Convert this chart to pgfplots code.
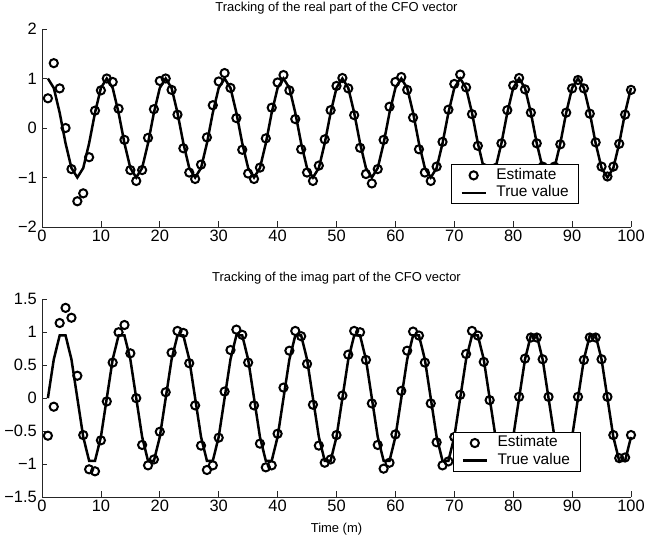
\documentclass[border=0pt]{standalone}
\usepackage{pgfplots}
\pgfplotsset{compat=1.18}
\usepackage{pgfplotstable}
\usepackage{fontspec}
\setmainfont{Liberation Sans}

\pgfplotstableread{
t re reT im imT
1 0.60 1.000 -0.57 0.000
2 1.31 0.809 -0.13 0.588
3 0.80 0.309 1.14 0.951
4 0.00 -0.309 1.37 0.951
5 -0.83 -0.809 1.22 0.588
6 -1.48 -1.000 0.34 0.000
7 -1.32 -0.809 -0.56 -0.588
8 -0.59 -0.309 -1.08 -0.951
9 0.35 0.309 -1.11 -0.951
10 0.76 0.809 -0.64 -0.588
11 1.00 1.000 -0.05 0.000
12 0.93 0.809 0.54 0.588
13 0.39 0.309 1.00 0.951
14 -0.24 -0.309 1.11 0.951
15 -0.85 -0.809 0.68 0.588
16 -1.07 -1.000 0.00 0.000
17 -0.85 -0.809 -0.71 -0.588
18 -0.20 -0.309 -1.02 -0.951
19 0.38 0.309 -0.93 -0.951
20 0.95 0.809 -0.51 -0.588
21 1.00 1.000 0.09 0.000
22 0.77 0.809 0.69 0.588
23 0.27 0.309 1.02 0.951
24 -0.41 -0.309 0.99 0.951
25 -0.90 -0.809 0.53 0.588
26 -1.03 -1.000 -0.11 0.000
27 -0.74 -0.809 -0.72 -0.588
28 -0.19 -0.309 -1.09 -0.951
29 0.46 0.309 -1.02 -0.951
30 0.94 0.809 -0.60 -0.588
31 1.11 1.000 0.10 0.000
32 0.81 0.809 0.73 0.588
33 0.20 0.309 1.04 0.951
34 -0.44 -0.309 0.96 0.951
35 -0.92 -0.809 0.54 0.588
36 -1.03 -1.000 -0.11 0.000
37 -0.80 -0.809 -0.69 -0.588
38 -0.21 -0.309 -1.05 -0.951
39 0.41 0.309 -1.02 -0.951
40 0.92 0.809 -0.54 -0.588
41 1.07 1.000 0.16 0.000
42 0.76 0.809 0.72 0.588
43 0.18 0.309 1.02 0.951
44 -0.43 -0.309 0.94 0.951
45 -0.90 -0.809 0.52 0.588
46 -1.07 -1.000 -0.10 0.000
47 -0.76 -0.809 -0.72 -0.588
48 -0.23 -0.309 -0.98 -0.951
49 0.36 0.309 -0.93 -0.951
50 0.85 0.809 -0.56 -0.588
51 1.01 1.000 0.04 0.000
52 0.80 0.809 0.66 0.588
53 0.26 0.309 1.02 0.951
54 -0.40 -0.309 1.00 0.951
55 -0.93 -0.809 0.58 0.588
56 -1.12 -1.000 -0.08 0.000
57 -0.83 -0.809 -0.71 -0.588
58 -0.24 -0.309 -1.07 -0.951
59 0.43 0.309 -0.98 -0.951
60 0.93 0.809 -0.55 -0.588
61 1.03 1.000 0.11 0.000
62 0.77 0.809 0.72 0.588
63 0.21 0.309 1.01 0.951
64 -0.43 -0.309 0.95 0.951
65 -0.90 -0.809 0.54 0.588
66 -1.07 -1.000 -0.08 0.000
67 -0.78 -0.809 -0.67 -0.588
68 -0.28 -0.309 -1.02 -0.951
69 0.37 0.309 -0.96 -0.951
70 0.89 0.809 -0.59 -0.588
71 1.08 1.000 0.05 0.000
72 0.82 0.809 0.67 0.588
73 0.28 0.309 1.02 0.951
74 -0.36 -0.309 0.95 0.951
75 -0.81 -0.809 0.55 0.588
76 -1.00 -1.000 -0.03 0.000
77 -0.81 -0.809 -0.59 -0.588
78 -0.31 -0.309 -0.95 -0.951
79 0.36 0.309 -0.95 -0.951
80 0.86 0.809 -0.59 -0.588
81 1.01 1.000 0.02 0.000
82 0.78 0.809 0.60 0.588
83 0.31 0.309 0.92 0.951
84 -0.31 -0.309 0.92 0.951
85 -0.78 -0.809 0.59 0.588
86 -1.00 -1.000 0.02 0.000
87 -0.78 -0.809 -0.59 -0.588
88 -0.33 -0.309 -0.95 -0.951
89 0.31 0.309 -0.95 -0.951
90 0.80 0.809 -0.59 -0.588
91 0.97 1.000 0.02 0.000
92 0.80 0.809 0.58 0.588
93 0.29 0.309 0.92 0.951
94 -0.29 -0.309 0.92 0.951
95 -0.78 -0.809 0.59 0.588
96 -0.98 -1.000 0.02 0.000
97 -0.78 -0.809 -0.56 -0.588
98 -0.32 -0.309 -0.91 -0.951
99 0.27 0.309 -0.90 -0.951
100 0.77 0.809 -0.56 -0.588
}\cfodata

\pgfplotsset{
  cfo/.style={
    scale only axis, width=589bp,
    xmin=0, xmax=100, xtick={0,10,...,100},
    axis x line=bottom, axis y line=left,
    axis line style={-, line width=0.8bp, black!85},
    tick style={line width=0.8bp, black!85},
    tick align=inside, major tick length=5.5bp,
    /pgf/number format/assume math mode=true,
    ticklabel style={font=\fontsize{16.5}{18}\selectfont, inner sep=1bp},
    xticklabel style={yshift=-2bp},
    yticklabel style={xshift=-4bp},
    title style={font=\fontsize{13}{15}\selectfont, at={(0.5,1)}, anchor=base, yshift=12bp, inner sep=0pt},
    legend style={draw=black, line width=0.8bp, fill=white,
      font=\fontsize{15.5}{17}\selectfont, anchor=south east,
      inner xsep=8.5bp, inner ysep=2bp,
      nodes={inner sep=1.5bp, text height=11bp, text depth=3.5bp},
      /tikz/column sep=8bp},
    legend cell align=left,
    legend image code/.code={\draw[mark repeat=2,mark phase=2,#1] plot coordinates {(0bp,0bp)(12bp,0bp)(24bp,0bp)};},
    clip=false,
  },
  est/.style={only marks, mark=o, mark size=4.1bp, mark options={line width=2bp, solid}, black},
  tru/.style={no marks, line width=2.5bp, black},
}

\begin{document}
\begin{tikzpicture}
\useasboundingbox (0,0) rectangle (647bp,538bp);
\begin{axis}[cfo, at={(42bp,311bp)}, anchor=south west, height=198bp,
  ymin=-2, ymax=2, ytick={-2,-1,0,1,2}, yticklabels={−2,−1,0,1,2},
  title={Tracking of the real part of the CFO vector},
  legend style={at={(0.912,0.116)}}]
\addplot[est] table[x=t, y=re] {\cfodata};
\addlegendentry{Estimate}
\addplot[tru] table[x=t, y=reT] {\cfodata};
\addlegendentry{True value}
\end{axis}
\begin{axis}[cfo, at={(42bp,41bp)}, anchor=south west, height=197.7bp,
  ymin=-1.5, ymax=1.5, ytick={-1.5,-1,-0.5,0,0.5,1,1.5}, yticklabels={−1.5,−1,−0.5,0,0.5,1,1.5},
  title={Tracking of the imag part of the CFO vector},
  xlabel={Time (m)},
  xlabel style={font=\fontsize{13}{15}\selectfont, at={(0.5,0)}, anchor=base, yshift=-35bp, inner sep=0pt},
  legend style={at={(0.914,0.128)}}]
\addplot[est] table[x=t, y=im] {\cfodata};
\addlegendentry{Estimate}
\addplot[tru] table[x=t, y=imT] {\cfodata};
\addlegendentry{True value}
\end{axis}
\end{tikzpicture}
\end{document}
